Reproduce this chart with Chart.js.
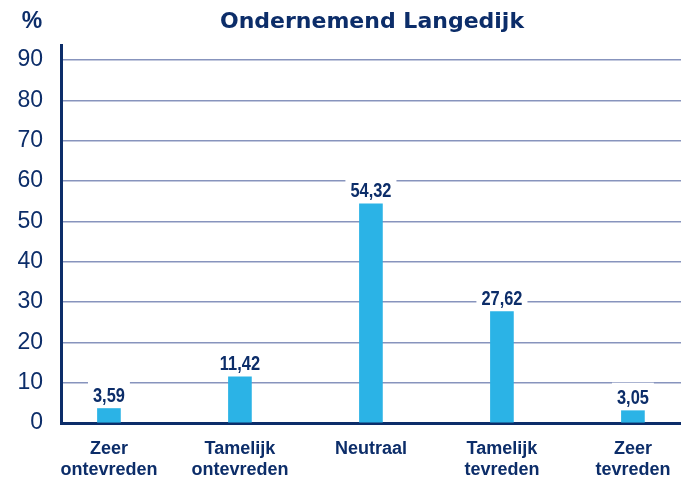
<!DOCTYPE html>
<html>
<head>
<meta charset="utf-8">
<script src="https://cdn.jsdelivr.net/npm/chart.js@4.4.0/dist/chart.umd.min.js"></script>
<style>
  html, body { margin: 0; padding: 0; background: #fff; }
  #wrap { width: 681px; height: 493px; position: relative; }
</style>
</head>
<body>
<div id="wrap"><canvas id="chart"></canvas></div>
<script>
// Chart data
const title = 'Ondernemend Langedijk';
const unitLabel = '%';
const categories = [
    ['Zeer', 'ontevreden'],
    ['Tamelijk', 'ontevreden'],
    ['Neutraal'],
    ['Tamelijk', 'tevreden'],
    ['Zeer', 'tevreden']
];
const values = [3.59, 11.42, 54.32, 27.62, 3.05];
const yTicks = [0, 10, 20, 30, 40, 50, 60, 70, 80, 90];

const navy = '#0c2d69';
const barBlue = '#2bb3e6';
const gridColor = '#8794bd';

// Draw value labels with a white box behind them, plus title and unit
const labelPlugin = {
    id: 'labels',
    afterDatasetsDraw(chart) {
        const ctx = chart.ctx;
        const meta = chart.getDatasetMeta(0);
        const squeeze = 0.82; // condensed look
        ctx.save();
        ctx.font = 'bold 20px "Liberation Sans", Arial, sans-serif';
        ctx.textAlign = 'center';
        ctx.textBaseline = 'alphabetic';
        meta.data.forEach((bar, i) => {
            const txt = values[i].toFixed(2).replace('.', ',');
            const w = ctx.measureText(txt).width * squeeze;
            const base = bar.y - 7;
            ctx.fillStyle = '#ffffff';
            ctx.fillRect(bar.x - w / 2 - 5, base - 21, w + 10, 24);
            ctx.save();
            ctx.translate(bar.x, base);
            ctx.scale(squeeze, 1);
            ctx.fillStyle = navy;
            ctx.fillText(txt, 0, 0);
            ctx.restore();
        });
        ctx.restore();
    },
    afterDraw(chart) {
        const ctx = chart.ctx;
        const area = chart.chartArea;
        ctx.save();
        ctx.fillStyle = navy;
        ctx.textBaseline = 'alphabetic';
        ctx.font = 'bold 22px "DejaVu Sans", sans-serif';
        ctx.textAlign = 'center';
        ctx.fillText(title, (area.left + area.right) / 2 + 1, 28);
        ctx.font = 'bold 23px "Liberation Sans", Arial, sans-serif';
        ctx.textAlign = 'center';
        ctx.fillText(unitLabel, 32, 28);
        ctx.restore();
    }
};

const ctx = document.getElementById('chart').getContext('2d');
const chart = new Chart(ctx, {
    type: 'bar',
    data: {
        datasets: [{
            data: values.map((v, i) => ({ x: i, y: v })),
            backgroundColor: barBlue,
            borderWidth: 0,
            barThickness: 23
        }]
    },
    options: {
        responsive: true,
        maintainAspectRatio: false,
        animation: false,
        layout: { padding: { top: 45, left: 0, right: 0, bottom: 0 } },
        plugins: {
            legend: { display: false },
            tooltip: { enabled: false }
        },
        scales: {
            x: {
                type: 'linear',
                offset: false,
                min: -0.366,
                max: 4.367,
                afterBuildTicks(scale) {
                    scale.ticks = categories.map((c, i) => ({ value: i }));
                },
                afterFit(scale) {
                    scale.height = 70;
                    scale.paddingLeft = 0;
                    scale.paddingRight = 0;
                },
                grid: { display: false, drawTicks: false },
                border: { display: true, color: navy, width: 3 },
                ticks: {
                    color: navy,
                    padding: 16,
                    maxRotation: 0,
                    autoSkip: false,
                    font: { family: '"Liberation Sans", Arial, sans-serif', size: 18, weight: 'bold', lineHeight: 1.15 },
                    callback: (v) => categories[v] || ''
                }
            },
            y: {
                min: 0,
                max: 93.7,
                afterBuildTicks(scale) {
                    scale.ticks = yTicks.map(v => ({ value: v }));
                },
                afterFit(scale) {
                    scale.width = 61;
                },
                grid: {
                    color: (c) => c.tick && c.tick.value === 0 ? 'rgba(0,0,0,0)' : gridColor,
                    lineWidth: 1.5,
                    drawTicks: false
                },
                border: { display: true, color: navy, width: 3 },
                ticks: {
                    color: navy,
                    padding: 18,
                    font: { family: '"Liberation Sans", Arial, sans-serif', size: 23 }
                }
            }
        }
    },
    plugins: [labelPlugin]
});
</script>
</body>
</html>
